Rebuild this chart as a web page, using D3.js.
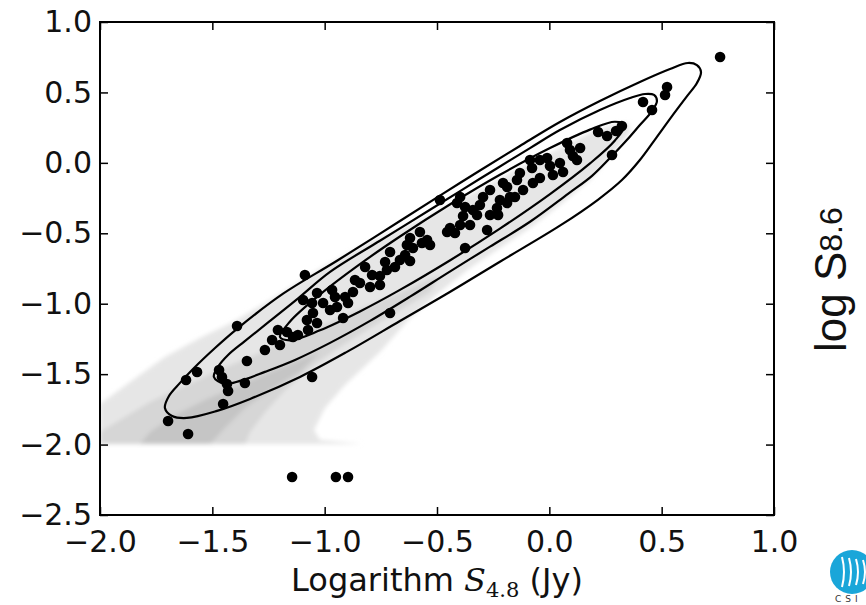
<!DOCTYPE html>
<html>
<head>
<meta charset="utf-8">
<script src="https://cdn.jsdelivr.net/npm/d3@7/dist/d3.min.js"></script>
<style>
  html, body { margin: 0; padding: 0; background: #fff; }
  svg { display: block; }
</style>
</head>
<body>
<div id="chart"></div>
<script>
// ---------------- DATA ----------------
const xTicks = [-2.0, -1.5, -1.0, -0.5, 0.0, 0.5, 1.0];
const xTickLabels = ["\u22122.0", "\u22121.5", "\u22121.0", "\u22120.5", "0.0", "0.5", "1.0"];
const yTicks = [1.0, 0.5, 0.0, -0.5, -1.0, -1.5, -2.0, -2.5];
const yTickLabels = ["1.0", "0.5", "0.0", "\u22120.5", "\u22121.0", "\u22121.5", "\u22122.0", "\u22122.5"];

// observed sources: log S4.8 (x) and log S8.6 (y)
const pointsX = [0.760,0.524,0.515,0.417,0.457,0.323,0.297,0.257,0.217,0.279,
  0.137,0.092,0.105,0.079,0.123,0.047,0.061,0.016,0.003,-0.010,
  -0.042,-0.086,-0.077,-0.073,-0.042,-0.117,-0.144,-0.175,-0.188,-0.220,
  -0.264,-0.295,-0.233,-0.153,-0.188,-0.131,-0.206,-0.264,-0.228,-0.277,
  -0.322,-0.309,-0.353,-0.340,-0.375,-0.397,-0.411,-0.487,-0.384,-0.397,
  -0.442,-0.420,-0.455,-0.375,-0.576,-0.544,-0.531,-0.620,-0.567,-0.607,
  -0.634,-0.642,-0.620,-0.665,-0.709,-0.687,-0.731,-0.723,-0.754,-0.789,
  -0.820,-0.798,-0.754,-0.843,-0.865,-0.874,-0.909,-0.954,-0.945,-0.896,
  -0.709,-0.918,-0.967,-1.034,-1.007,-0.976,-1.056,-1.052,-1.079,-1.034,
  -1.074,-1.119,-1.141,-1.168,-1.199,-1.208,-1.234,-1.266,-1.346,-1.088,
  -1.390,-1.568,-1.617,-1.470,-1.457,-1.435,-1.430,-1.355,-1.452,-1.697,
  -1.608,-1.056,-1.096,-1.145,-0.950,-0.896];
const pointsY = [0.752,0.539,0.482,0.432,0.375,0.262,0.226,0.191,0.219,0.056,
  0.105,0.091,0.049,0.141,0.020,-0.001,-0.065,-0.086,-0.022,0.035,
  0.020,0.020,-0.036,-0.143,-0.107,-0.193,-0.122,-0.242,-0.171,-0.264,
  -0.193,-0.242,-0.320,-0.242,-0.285,-0.072,-0.143,-0.370,-0.370,-0.477,
  -0.370,-0.299,-0.441,-0.335,-0.313,-0.242,-0.285,-0.264,-0.377,-0.441,
  -0.462,-0.498,-0.491,-0.604,-0.491,-0.548,-0.583,-0.533,-0.569,-0.604,
  -0.583,-0.654,-0.697,-0.690,-0.633,-0.739,-0.704,-0.761,-0.803,-0.796,
  -0.739,-0.881,-0.867,-0.853,-0.832,-0.917,-0.952,-0.952,-1.023,-0.995,
  -1.066,-1.101,-0.903,-0.924,-0.995,-1.045,-0.995,-1.066,-1.116,-1.137,
  -1.187,-1.222,-1.236,-1.201,-1.293,-1.187,-1.258,-1.329,-1.407,-0.796,
  -1.158,-1.485,-1.542,-1.471,-1.520,-1.570,-1.620,-1.563,-1.712,-1.833,
  -1.925,-1.520,-0.974,-2.230,-2.230,-2.230];

// model probability contours (outer, middle, inner)
const contourOuterX = [-1.711,-1.693,-1.644,-1.586,-1.488,-1.390,-1.185,-0.945,-0.665,-0.398,-0.131,0.047,0.225,0.403,0.537,0.617,0.657,
  0.675,0.657,0.613,0.546,0.475,0.403,0.323,0.216,0.047,-0.220,-0.443,-0.665,-0.901,-1.110,-1.332,-1.479,-1.613,-1.679];
const contourOuterY = [-1.740,-1.655,-1.562,-1.463,-1.314,-1.178,-0.929,-0.695,-0.413,-0.143,0.120,0.290,0.439,0.574,0.666,0.709,0.694,
  0.645,0.567,0.474,0.332,0.176,0.020,-0.122,-0.262,-0.446,-0.702,-0.917,-1.123,-1.342,-1.520,-1.676,-1.761,-1.811,-1.797];
const contourMiddleX = [-1.493,-1.475,-1.430,-1.354,-1.243,-1.110,-0.976,-0.754,-0.531,-0.309,-0.086,0.047,0.225,0.359,0.426,0.466,0.479,
  0.457,0.403,0.345,0.270,0.190,0.083,-0.086,-0.264,-0.443,-0.620,-0.798,-0.976,-1.132,-1.266,-1.377,-1.448];
const contourMiddleY = [-1.520,-1.449,-1.364,-1.264,-1.122,-0.951,-0.774,-0.553,-0.333,-0.113,0.105,0.233,0.375,0.460,0.489,0.482,0.439,
  0.368,0.269,0.162,0.035,-0.092,-0.220,-0.418,-0.595,-0.772,-0.950,-1.122,-1.278,-1.399,-1.484,-1.548,-1.569];
const contourInnerX = [-1.199,-1.154,-1.021,-0.843,-0.665,-0.443,-0.220,0.003,0.181,0.292,0.336,
  0.292,0.181,0.003,-0.220,-0.443,-0.665,-0.843,-1.021,-1.154];
const contourInnerY = [-1.236,-1.126,-0.935,-0.719,-0.523,-0.296,-0.085,0.105,0.236,0.292,0.269,
  0.159,-0.004,-0.222,-0.467,-0.693,-0.902,-1.055,-1.189,-1.260];

// shaded density of simulated population (three grey levels)
const shadeLevelColors = ["#e6e6e6", "#d6d6d6", "#c5c5c5"];
const shade1X = [-2.0,-1.866,-1.711,-1.555,-1.408,-1.243,-1.021,-0.798,-0.576,-0.353,-0.131,0.047,0.181,0.292,0.350,
  0.359,0.279,0.181,0.047,-0.086,-0.220,-0.353,-0.487,-0.620,-0.754,-0.910,-0.999,-1.048,-1.021,-0.834,-2.0];
const shade1Y = [-1.712,-1.556,-1.378,-1.243,-1.130,-0.974,-0.751,-0.560,-0.406,-0.226,-0.036,0.105,0.212,0.276,0.290,
  0.219,0.056,-0.121,-0.299,-0.462,-0.604,-0.747,-0.917,-1.101,-1.342,-1.577,-1.740,-1.896,-1.967,-1.996,-1.996];
const shade2X = [-2.0,-2.0,-1.911,-1.777,-1.644,-1.488,-1.332,-1.154,-0.976,-0.798,-0.620,-0.487,
  -0.531,-0.665,-0.798,-0.932,-1.065,-1.176,-1.265,-1.332,-1.354];
const shade2Y = [-1.996,-1.911,-1.826,-1.698,-1.598,-1.485,-1.378,-1.258,-1.130,-1.009,-0.888,-0.796,
  -0.917,-1.045,-1.172,-1.307,-1.456,-1.612,-1.769,-1.911,-1.996];
const shade3X = [-1.822,-1.777,-1.666,-1.533,-1.377,-1.199,-1.021,-1.110,-1.244,-1.355,-1.444,-1.510];
const shade3Y = [-1.996,-1.911,-1.790,-1.684,-1.577,-1.456,-1.343,-1.485,-1.612,-1.740,-1.882,-1.996];

// ---------------- DRAW ----------------
const W = 866, H = 605;
const svg = d3.select("#chart").append("svg").attr("width", W).attr("height", H);

const x = d3.scaleLinear().domain([-2, 1]).range([100, 774]);
const y = d3.scaleLinear().domain([-2.5, 1]).range([515, 22]);

const defs = svg.append("defs");
defs.append("clipPath").attr("id", "plotclip").append("rect")
  .attr("x", x(-2)).attr("y", y(1)).attr("width", x(1) - x(-2)).attr("height", y(-2.5) - y(1));
const blur = defs.append("filter").attr("id", "soft").attr("x", "-5%").attr("y", "-5%").attr("width", "110%").attr("height", "110%");
blur.append("feGaussianBlur").attr("stdDeviation", 2);

const plot = svg.append("g").attr("clip-path", "url(#plotclip)");

// shaded density
const polyLine = d3.line().x(d => x(d[0])).y(d => y(d[1])).curve(d3.curveLinearClosed);
const shades = [[shade1X, shade1Y], [shade2X, shade2Y], [shade3X, shade3Y]];
const shadeG = plot.append("g").attr("filter", "url(#soft)");
shades.forEach((s, i) => {
  const pts = s[0].map((v, j) => [v, s[1][j]]);
  shadeG.append("path").attr("d", polyLine(pts)).attr("fill", shadeLevelColors[i]).attr("stroke", "none");
});

// contours
const contourLine = d3.line().x(d => x(d[0])).y(d => y(d[1])).curve(d3.curveCatmullRomClosed.alpha(0.5));
[[contourOuterX, contourOuterY], [contourMiddleX, contourMiddleY], [contourInnerX, contourInnerY]].forEach(c => {
  const pts = c[0].map((v, j) => [v, c[1][j]]);
  plot.append("path").attr("d", contourLine(pts)).attr("fill", "none")
    .attr("stroke", "#000").attr("stroke-width", 2.2).attr("stroke-linejoin", "round");
});

// points
plot.append("g").selectAll("circle").data(pointsX.map((v, i) => [v, pointsY[i]])).join("circle")
  .attr("cx", d => x(d[0])).attr("cy", d => y(d[1])).attr("r", 5.3).attr("fill", "#000");

// axes (ticks inward on all four sides)
const font = "'DejaVu Sans', sans-serif";
const axB = svg.append("g").attr("transform", `translate(0,${y(-2.5)})`)
  .call(d3.axisBottom(x).tickValues(xTicks).tickSize(-8).tickPadding(16).tickFormat((d, i) => xTickLabels[i]));
const axL = svg.append("g").attr("transform", `translate(${x(-2)},0)`)
  .call(d3.axisLeft(y).tickValues(yTicks).tickSize(-8).tickPadding(8).tickFormat((d, i) => yTickLabels[i]));
const axT = svg.append("g").attr("transform", `translate(0,${y(1)})`)
  .call(d3.axisTop(x).tickValues(xTicks).tickSize(-8).tickFormat(() => ""));
const axR = svg.append("g").attr("transform", `translate(${x(1)},0)`)
  .call(d3.axisRight(y).tickValues(yTicks).tickSize(-8).tickFormat(() => ""));
[axB, axL, axT, axR].forEach(a => {
  a.select(".domain").remove();
  a.selectAll(".tick line").attr("stroke", "#000").attr("stroke-width", 1.5);
  a.selectAll(".tick text").attr("fill", "#111").style("font-family", font).style("font-size", "30px");
});

// frame
svg.append("rect").attr("x", x(-2)).attr("y", y(1)).attr("width", x(1) - x(-2)).attr("height", y(-2.5) - y(1))
  .attr("fill", "none").attr("stroke", "#000").attr("stroke-width", 2);

// x label
const xl = svg.append("text").attr("x", (x(-2) + x(1)) / 2).attr("y", 591).attr("text-anchor", "middle")
  .style("font-family", font).style("font-size", "32px").attr("fill", "#111");
xl.append("tspan").text("Logarithm ");
xl.append("tspan").text("S").style("font-family", "'DejaVu Serif', serif").style("font-style", "italic");
xl.append("tspan").text("4.8").style("font-family", "'DejaVu Serif', serif").style("font-size", "21px").attr("dy", 6);
xl.append("tspan").text(" (Jy)").attr("dy", -6);

// neighbouring panel label (cropped)
const rl = svg.append("text").attr("transform", "translate(846,352) rotate(-90)")
  .style("font-family", "'Liberation Sans', Arial, sans-serif").style("font-size", "44px").attr("fill", "#111");
rl.append("tspan").text("log S");
rl.append("tspan").text("8.6").style("font-size", "32px").attr("dy", -4);

// logo (cropped)
const logo = svg.append("g");
logo.append("circle").attr("cx", 852).attr("cy", 572).attr("r", 22).attr("fill", "#1aa6d9");
[842, 849, 856, 863].forEach((lx, i) => {
  logo.append("path").attr("d", `M${lx},${557 + i} Q${lx + 4},572 ${lx},${587 - i}`)
    .attr("stroke", "#fff").attr("stroke-width", 2).attr("fill", "none");
});
svg.append("text").attr("x", 835).attr("y", 602).text("CSI")
  .style("font-family", "'DejaVu Sans', sans-serif").style("font-size", "9px").style("letter-spacing", "4px").attr("fill", "#333");
</script>
</body>
</html>
